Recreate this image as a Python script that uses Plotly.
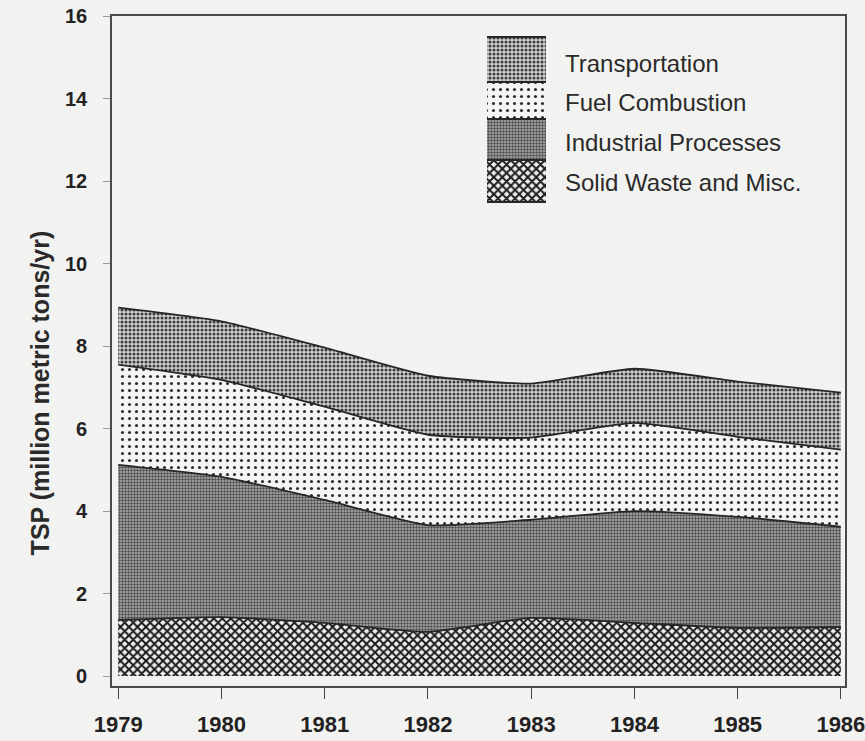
import plotly.graph_objects as go

# Total suspended particulate emissions by source category (million metric tons/yr)
years = [1979, 1980, 1981, 1982, 1983, 1984, 1985, 1986]
solid_waste = [1.36, 1.43, 1.29, 1.07, 1.41, 1.29, 1.17, 1.19]
industrial = [3.76, 3.40, 2.98, 2.59, 2.38, 2.71, 2.69, 2.43]
fuel_combustion = [2.43, 2.35, 2.26, 2.19, 1.99, 2.14, 1.94, 1.87]
transportation = [1.38, 1.42, 1.43, 1.43, 1.31, 1.31, 1.34, 1.38]

y_ticks = [0, 2, 4, 6, 8, 10, 12, 14, 16]
y_title = "TSP (million metric tons/yr)"

# stacking order bottom -> top
layers = [
    ("Solid Waste and Misc.", solid_waste),
    ("Industrial Processes", industrial),
    ("Fuel Combustion", fuel_combustion),
    ("Transportation", transportation),
]

PAPER = "#f2f2f0"
INK = "#262626"
FONT = "Liberation Sans, Arial, sans-serif"

patterns = {
    "Transportation": dict(shape=".", size=4, solidity=0.45, fgcolor="#3a3a3a", bgcolor="#cfcfcd"),
    "Fuel Combustion": dict(shape=".", size=7, solidity=0.15, fgcolor="#2a2a2a", bgcolor="#f4f4f2"),
    "Industrial Processes": dict(shape=".", size=3, solidity=0.5, fgcolor="#4a4a4a", bgcolor="#b0b0ae"),
    "Solid Waste and Misc.": dict(shape="x", size=6, solidity=0.55, fgcolor="#1a1a1a", bgcolor="#eeeeec"),
}

fig = go.Figure()

for name, vals in layers:
    fig.add_trace(go.Scatter(
        x=years, y=vals, name=name, stackgroup="tsp", mode="lines",
        line=dict(color=INK, width=1.8, shape="spline", smoothing=0.5),
        fillpattern=dict(fillmode="replace", **patterns[name]),
        showlegend=False, hoverinfo="skip",
    ))

# Legend block: patterned swatches separated by rules, drawn on an overlay axis in pixel units
SW_X0, SW_X1 = 487, 546
rules = [37, 82, 119, 160, 202]
label_y = [63, 102, 142, 182]
legend_order = ["Transportation", "Fuel Combustion", "Industrial Processes", "Solid Waste and Misc."]
for i, name in enumerate(legend_order):
    y0, y1 = rules[i], rules[i + 1]
    fig.add_trace(go.Scatter(
        x=[SW_X0, SW_X1, SW_X1, SW_X0, SW_X0], y=[y0, y0, y1, y1, y0],
        xaxis="x2", yaxis="y2", mode="lines", fill="toself",
        line=dict(width=0, color="rgba(0,0,0,0)"),
        fillpattern=dict(fillmode="replace", **patterns[name]),
        showlegend=False, hoverinfo="skip",
    ))
    fig.add_annotation(
        x=563, y=label_y[i], xref="x2", yref="y2", text=name,
        showarrow=False, xanchor="left", yanchor="middle",
        font=dict(family=FONT, size=24, color="#2a2a2a"),
    )
for ry in rules:
    fig.add_shape(type="line", x0=SW_X0, x1=SW_X1, y0=ry, y1=ry, xref="x2", yref="y2",
                  line=dict(color=INK, width=2.2))

# vertical axis title, set a little below the axis midpoint
fig.add_annotation(
    x=-0.098, y=0.437, xref="paper", yref="paper", text=y_title, textangle=-90,
    showarrow=False, xanchor="center", yanchor="middle",
    font=dict(family=FONT, size=25, color="#2a2a2a", weight="bold"),
)

fig.update_layout(
    width=865, height=741,
    margin=dict(l=112, r=20, t=16, b=55),
    paper_bgcolor=PAPER, plot_bgcolor=PAPER,
    showlegend=False,
    xaxis=dict(
        range=[1978.94, 1986.04], tickvals=years, ticktext=[str(y) for y in years],
        ticks="outside", ticklen=11, tickwidth=1.2, tickcolor="#444",
        showline=True, linecolor="#4a4a4a", linewidth=1.6, mirror=True,
        showgrid=False, zeroline=False, ticklabelstandoff=7, automargin=False,
        ticklabeloverflow="allow",
        tickfont=dict(family=FONT, size=22, color="#222", weight="bold"),
    ),
    yaxis=dict(
        range=[-0.24, 16], tickvals=y_ticks,
        ticks="outside", ticklen=7, tickwidth=1, tickcolor="#9a9a9a",
        showline=True, linecolor="#4a4a4a", linewidth=1.6, mirror=True,
        showgrid=False, zeroline=False, ticklabelstandoff=12, automargin=False,
        ticklabeloverflow="allow",
        tickfont=dict(family=FONT, size=20, color="#222", weight="bold"),
    ),
    xaxis2=dict(overlaying="x", range=[112, 845], visible=False, fixedrange=True),
    yaxis2=dict(overlaying="y", range=[686, 16], visible=False, fixedrange=True),
)

fig.write_html("out.html")
